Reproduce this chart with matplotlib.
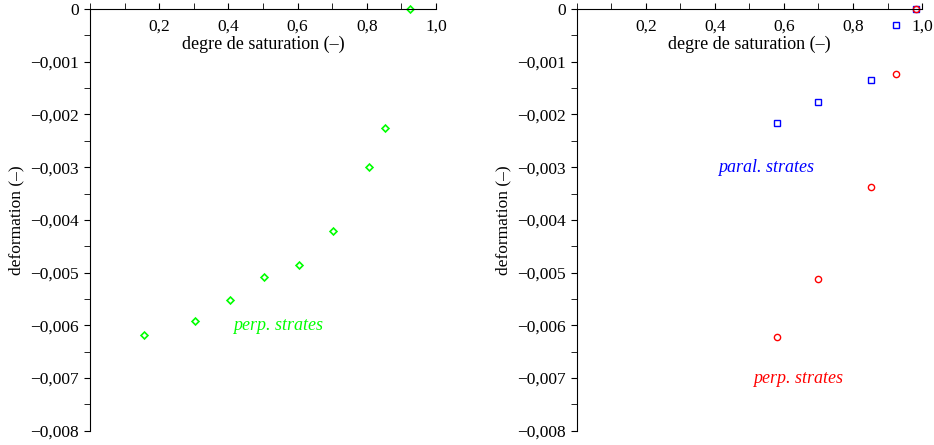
import matplotlib
matplotlib.use('Agg')
import matplotlib.pyplot as plt
from matplotlib.ticker import FuncFormatter, MultipleLocator

plt.rcParams['font.family'] = ['Liberation Serif', 'DejaVu Serif']

# left panel: perpendicular to strata
sat_perp_l = [0.155, 0.303, 0.405, 0.503, 0.604, 0.702, 0.806, 0.853, 0.926]
def_perp_l = [-0.00619, -0.00591, -0.00552, -0.00509, -0.00486, -0.00421, -0.00300, -0.00225, 0.0]

# right panel
sat_paral = [0.581, 0.700, 0.852, 0.924, 0.983]
def_paral = [-0.00216, -0.00177, -0.00134, -0.000304, 0.0]
sat_perp_r = [0.581, 0.700, 0.852, 0.924, 0.983]
def_perp_r = [-0.00622, -0.00512, -0.00338, -0.00123, 0.0]

xticks = [0.2, 0.4, 0.6, 0.8, 1.0]
yticks = [0, -0.001, -0.002, -0.003, -0.004, -0.005, -0.006, -0.007, -0.008]


def xfmt(v, pos):
    return ('%.1f' % v).replace('.', ',')


def yfmt(v, pos):
    if abs(v) < 1e-12:
        return '0'
    return ('%.3f' % v).replace('.', ',').replace('-', '\u2212')


def setup(ax):
    ax.set_xlim(0, 1.0)
    ax.set_ylim(-0.008, 0)
    ax.spines['right'].set_visible(False)
    ax.spines['top'].set_visible(False)
    ax.spines['bottom'].set_position(('data', 0))
    ax.set_xticks(xticks)
    ax.xaxis.set_minor_locator(MultipleLocator(0.1))
    ax.set_yticks(yticks)
    ax.yaxis.set_minor_locator(MultipleLocator(0.0005))
    ax.xaxis.set_major_formatter(FuncFormatter(xfmt))
    ax.yaxis.set_major_formatter(FuncFormatter(yfmt))
    ax.tick_params(axis='x', which='both', direction='in', length=4, pad=7, labelsize=12.5)
    ax.tick_params(axis='y', which='both', direction='out', length=4, pad=4, labelsize=12.5)
    ax.set_xlabel('degre de saturation (\u2013)', fontsize=13)
    ax.xaxis.set_label_coords(0.5, 0.937)
    ax.set_ylabel('deformation (\u2013)', fontsize=12.5)
    ax.yaxis.set_label_coords(-0.19, 0.5)


fig = plt.figure(figsize=(9.34, 4.45), dpi=100)
ax1 = fig.add_axes([0.0964, 0.0321, 0.3704, 0.9476])
ax2 = fig.add_axes([0.6175, 0.0321, 0.3697, 0.9476])

setup(ax1)
ax1.plot(sat_perp_l, def_perp_l, 'D', ms=3.5, mfc='none', mec='#00ff00', mew=1.2, clip_on=False)
ax1.text(0.413, -0.0060, 'perp. strates', color='#00ff00', style='italic', fontsize=13, va='center')

setup(ax2)
ax2.plot(sat_paral, def_paral, 's', ms=4.5, mfc='none', mec='#0000ff', mew=1.0, clip_on=False)
ax2.plot(sat_perp_r, def_perp_r, 'o', ms=4.5, mfc='none', mec='#ff0000', mew=1.0, clip_on=False)
ax2.text(0.41, -0.0030, 'paral. strates', color='#0000ff', style='italic', fontsize=13, va='center')
ax2.text(0.51, -0.0070, 'perp. strates', color='#ff0000', style='italic', fontsize=13, va='center')

fig.savefig('out.png', dpi=100)
